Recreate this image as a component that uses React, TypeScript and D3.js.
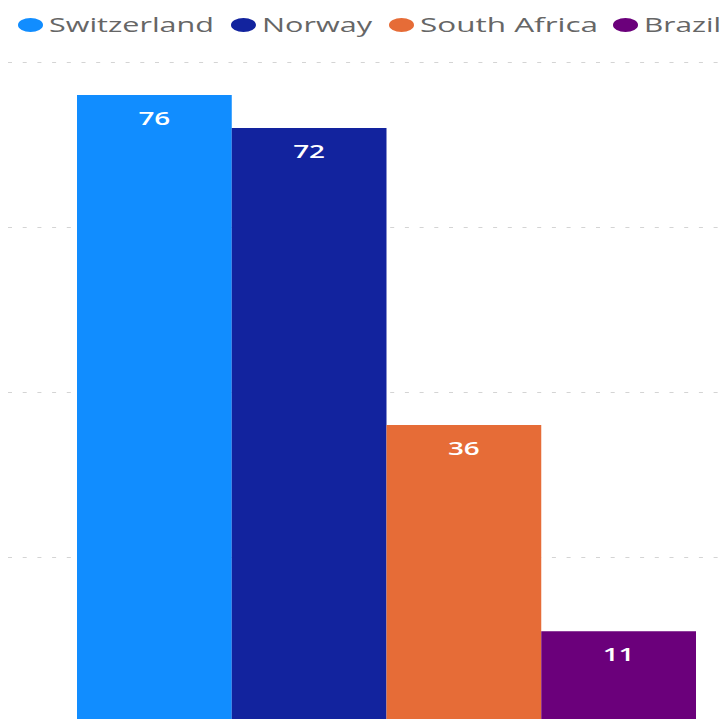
import React from "react";
import * as d3 from "d3";

const categories = ["Switzerland", "Norway", "South Africa", "Brazil"];
const values = [76, 72, 36, 11];
const colors = ["#118DFF", "#12239E", "#E66C37", "#6B007B"];
const gridTicks = [20, 40, 60, 80];

const W = 722;
const H = 719;
const SX = 1.55; // horizontal stretch of the reference rendering

export default function App() {
  const x = d3.scaleBand<string>().domain(categories).range([77, 696]).padding(0);
  const y = d3.scaleLinear().domain([0, 80]).range([722, 62]);

  const legendStarts = [18, 231, 389, 613];
  const legendTextWidths = [165, 110, 178, 77];

  return (
    <svg
      width={W}
      height={H}
      style={{ position: "absolute", left: 0, top: 0, background: "#fff", overflow: "hidden" }}
      fontFamily="'Open Sans', 'Noto Sans', sans-serif"
    >
      {gridTicks.map((t) => (
        <line
          key={t}
          x1={8}
          x2={W}
          y1={Math.round(y(t)) + 0.5}
          y2={Math.round(y(t)) + 0.5}
          stroke="#d4d4d4"
          strokeWidth={1.2}
          strokeDasharray="4 10.7"
        />
      ))}
      {categories.map((c, i) => {
        const top = y(values[i]);
        const cx = (x(c) as number) + x.bandwidth() / 2;
        return (
          <g key={c}>
            <rect x={x(c)} y={top} width={x.bandwidth()} height={y(0) - top} fill={colors[i]} />
            <text
              transform={`translate(${cx},${top + 29.5}) scale(${SX},1)`}
              textAnchor="middle"
              fontSize={18}
              fontWeight={600}
              fill="#ffffff"
            >
              {values[i]}
            </text>
          </g>
        );
      })}
      {categories.map((c, i) => (
        <g key={"lg" + c}>
          <ellipse cx={legendStarts[i] + 12.5} cy={25} rx={12.5} ry={7} fill={colors[i]} />
          <text
            x={legendStarts[i] + 31}
            y={32}
            fontSize={20}
            fill="#666666"
            textLength={legendTextWidths[i]}
            lengthAdjust="spacingAndGlyphs"
          >
            {c}
          </text>
        </g>
      ))}
    </svg>
  );
}
